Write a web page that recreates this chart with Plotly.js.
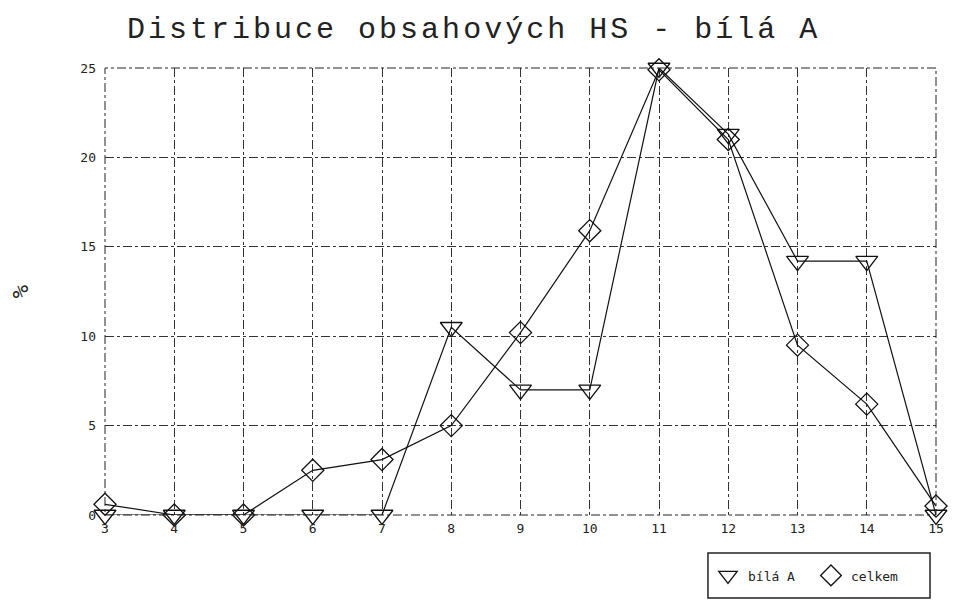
<!DOCTYPE html>
<html><head><meta charset="utf-8">
<script src="https://cdn.plot.ly/plotly-3.0.1.min.js"></script>
<style>body{margin:0;background:#fff}#c{width:953px;height:603px}
.gtitle{letter-spacing:3px}</style>
</head><body><div id="c"></div>
<script>
const xCats = [3,4,5,6,7,8,9,10,11,12,13,14,15];
const bilaA = [0,0,0,0,0,10.5,7.0,7.0,25,21.3,14.2,14.2,0];
const celkem = [0.6,0,0,2.5,3.1,5.0,10.2,15.9,24.9,21.0,9.5,6.2,0.5];
const yTicks = [0,5,10,15,20,25];
const font = "DejaVu Sans Mono, Liberation Mono, monospace";
const tfont = "Liberation Mono, DejaVu Sans Mono, monospace";

const lineStyle = {color:'#111',width:1.2};
const triMarker = {symbol:'triangle-down-open',size:19,color:'#111',line:{width:1.3}};
const diaMarker = {symbol:'diamond-open',size:17,color:'#111',line:{width:1.3}};

const traces = [
  {x:xCats, y:bilaA, name:'bílá A', mode:'lines+markers', cliponaxis:false,
   line:lineStyle, marker:triMarker, showlegend:false},
  {x:xCats, y:celkem, name:'celkem', mode:'lines+markers', cliponaxis:false,
   line:lineStyle, marker:diaMarker, showlegend:false},
  {x:[null], y:[null], name:'bílá A', mode:'markers', marker:triMarker, showlegend:true},
  {x:[null], y:[null], name:'celkem', mode:'markers', marker:diaMarker, showlegend:true}
];
const layout = {
  width:953, height:603,
  margin:{l:105,r:17,t:68,b:88},
  paper_bgcolor:'#fff', plot_bgcolor:'#fff',
  font:{family:font,color:'#222',size:13},
  title:{text:'Distribuce obsahových HS - bílá A', x:0.497, xanchor:'center', y:0.955, yanchor:'middle',
         font:{family:tfont,size:30,color:'#222'}},
  xaxis:{range:[3,15], tickvals:xCats, ticktext:xCats.map(String), showgrid:true,
         gridcolor:'#333', griddash:'dashdot', gridwidth:1, zeroline:false, showline:false,
         ticks:'', ticklabelstandoff:4, tickfont:{size:13,family:font,color:'#222'}},
  yaxis:{range:[0,25], tickvals:yTicks, showgrid:true, gridcolor:'#333', griddash:'dashdot', gridwidth:1,
         zeroline:false, showline:false, ticks:'', ticklabelstandoff:8,
         tickfont:{size:13,family:font,color:'#222'},
         title:{text:'%', standoff:45, font:{size:22,family:font,color:'#222'}}},
  shapes:[{type:'rect',xref:'paper',yref:'paper',x0:0,x1:1,y0:0,y1:1,
           line:{color:'#222',width:1,dash:'dashdot'}},
          {type:'rect',xref:'paper',yref:'paper',x0:0.7256,x1:0.9928,y0:-0.085,y1:-0.1857,
           line:{color:'#222',width:1.5}}],
  legend:{orientation:'h', x:0.7256, xanchor:'left', y:-0.1353, yanchor:'middle',
          borderwidth:0, bgcolor:'rgba(0,0,0,0)',
          font:{size:13,family:font,color:'#222'}, itemwidth:30, entrywidth:58},
  showlegend:true
};
Plotly.newPlot('c', traces, layout, {staticPlot:true});
</script></body></html>
